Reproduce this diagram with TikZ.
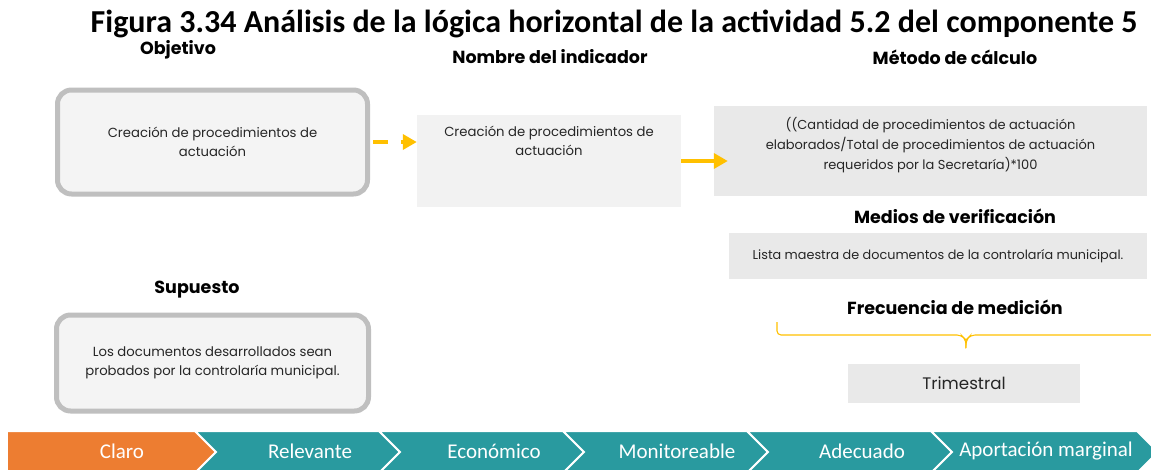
\documentclass[tikz,border=0pt]{standalone}
\usepackage{fontspec}
\setmainfont{Poppins}
\newfontfamily\titlefont{Carlito}
\usetikzlibrary{arrows.meta}
\definecolor{boxgray}{HTML}{BFBFBF}
\definecolor{boxfill}{HTML}{F4F4F4}
\definecolor{fillB}{HTML}{F2F2F2}
\definecolor{fillC}{HTML}{E9E9E9}
\definecolor{arrowyel}{HTML}{FFC000}
\definecolor{chorange}{HTML}{ED7D31}
\definecolor{chteal}{HTML}{299A9F}
\tikzset{
  lbl/.style={font=\fontsize{17.5}{20}\selectfont\bfseries, text=black},
  roundbox/.style={draw=boxgray, line width=5pt, fill=boxfill, rounded corners=14pt, align=center, font=\fontsize{13.2}{19}\selectfont, text=black!85},
  flatbox/.style={fill=#1, align=center, font=\fontsize{13.2}{19}\selectfont, text=black!85, inner sep=0pt},
  conn/.style={draw=arrowyel, line width=4pt, -{Triangle[length=14pt,width=15pt]}},
  chev/.style={draw=white, line width=2pt},
  chevtxt/.style={font=\titlefont\fontsize{21}{24}\selectfont, text=white}
}
\begin{document}
\begin{tikzpicture}[x=1pt,y=-1pt]
\useasboundingbox (0,0) rectangle (1151,469);
\begin{scope}
\clip (0,0) rectangle (1151,469);
% title
\node[font=\titlefont\bfseries\fontsize{32}{34}\selectfont] (title) at (614,24) {Figura 3.34 Análisis de la lógica horizontal de la actividad 5.2 del componente 5};
% labels
\node[lbl] (lobj) at (178,50) {Objetivo};
\node[lbl] (lnom) at (550,57) {Nombre del indicador};
\node[lbl] (lmet) at (955,57) {Método de cálculo};
\node[lbl] (lmed) at (955,216) {Medios de verificación};
\node[lbl] (lsup) at (197,290) {Supuesto};
\node[lbl] (lfre) at (955,307) {Frecuencia de medición};
% boxes
\node[roundbox, minimum width=310pt, minimum height=104pt] (obj) at (212.5,142) {Creación de procedimientos de\\actuación};
\node[roundbox, minimum width=312pt, minimum height=96pt] (sup) at (212.5,363) {Los documentos desarrollados sean\\probados por la controlaría municipal.};
\node[flatbox=fillB, minimum width=264pt, minimum height=92pt] (nom) at (549,161) {};
\node[font=\fontsize{13.2}{19}\selectfont, text=black!85, align=center, anchor=north] (nomt) at (549,123) {Creación de procedimientos de\\actuación};
\node[flatbox=fillC, minimum width=433pt, minimum height=90pt] (met) at (930.5,151) {};
\node[font=\fontsize{13}{20}\selectfont, text=black!85, align=center] (mett) at (930.5,145) {((Cantidad de procedimientos de actuación\\elaborados/Total de procedimientos de actuación\\requeridos por la Secretaría)*100};
\node[flatbox=fillC, minimum width=418pt, minimum height=46pt, font=\fontsize{12.8}{14}\selectfont] (med) at (938,256) {Lista maestra de documentos de la controlaría municipal.};
\node[flatbox=fillC, minimum width=232pt, minimum height=39pt, font=\fontsize{16.7}{18}\selectfont] (tri) at (964,383) {Trimestral};
% connectors
\draw[conn, dash pattern=on 15pt off 13pt] (obj.east) ++(3,0) -- (nom.west |- obj.east);
\coordinate (mettip) at ([xshift=14pt]met.west |- nom.east);
\draw[conn] (nom.east |- mettip) -- (mettip);
% brace
\draw[arrowyel, line width=1.1pt, rounded corners=4pt] (777,322) -- (777,335) -- (961,335) -- (966,340) -- (966,348);
\draw[arrowyel, line width=1.1pt, rounded corners=4pt] (966,343) -- (966,340) -- (971,335) -- (1155,335);
% chevrons
\def\ct{431}\def\cm{452}\def\cb{473}
\path[chev, fill=chorange] (0,\ct) -- (195,\ct) -- (216,\cm) -- (195,\cb) -- (0,\cb) -- cycle;
\foreach \a/\b in {195/379,379/563,563/747,747/931}{
  \path[chev, fill=chteal] (\a,\ct) -- (\b,\ct) -- (\b+21,\cm) -- (\b,\cb) -- (\a,\cb) -- (\a+21,\cm) -- cycle;
}
\path[chev, fill=chteal] (931,\ct) -- (1137,\ct) -- (1158,\cm) -- (1137,\cb) -- (931,\cb) -- (952,\cm) -- cycle;
\path[fill=white] (0,\ct-2) rectangle (8,\cb);
\node[chevtxt] (c1) at (122,451) {Claro};
\node[chevtxt] (c2) at (310,451) {Relevante};
\node[chevtxt] (c3) at (494,451) {Económico};
\node[chevtxt] (c4) at (677,451) {Monitoreable};
\node[chevtxt] (c5) at (862,451) {Adecuado};
\node[chevtxt] (c6) at (1046,451) {Aportación marginal};
\end{scope}
\end{tikzpicture}
\end{document}
